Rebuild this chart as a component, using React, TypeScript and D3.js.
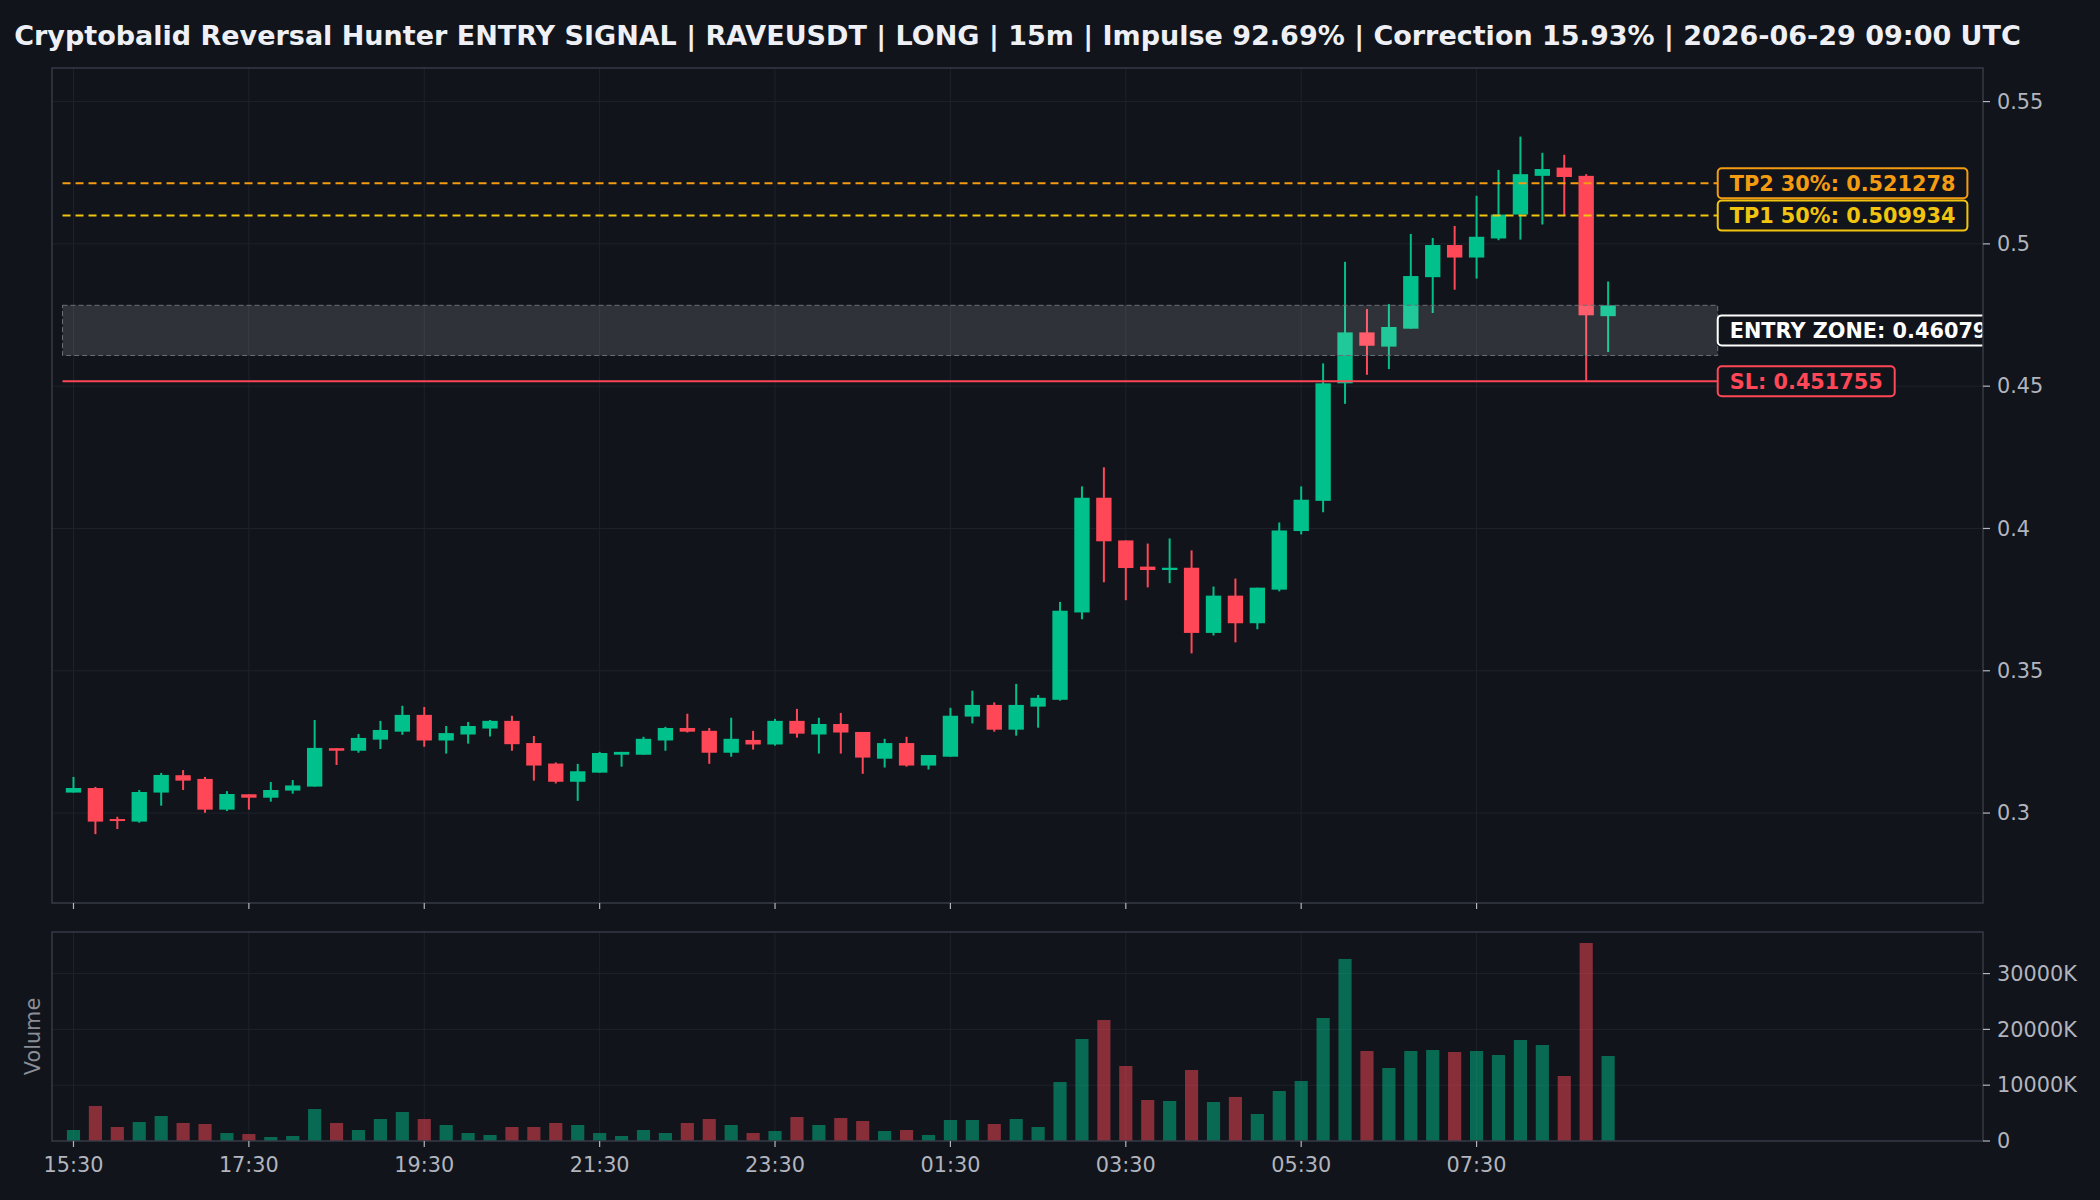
import * as d3 from 'd3'
import { useEffect, useRef } from 'react'

const W = 2100
const H = 1200

const titleText =
  'Cryptobalid Reversal Hunter ENTRY SIGNAL | RAVEUSDT | LONG | 15m | Impulse 92.69% | Correction 15.93% | 2026-06-29 09:00 UTC'

// 15m candles, 15:30 -> 09:00 UTC
const opens = [
  0.3072, 0.3088, 0.2979, 0.2970, 0.3072, 0.3133, 0.3120, 0.3012, 0.3066, 0.3054,
  0.3079, 0.3093, 0.3228, 0.3219, 0.3258, 0.3286, 0.3345, 0.3255, 0.3276, 0.3297,
  0.3324, 0.3246, 0.3174, 0.3110, 0.3142, 0.3205, 0.3205, 0.3255, 0.3299, 0.3289,
  0.3212, 0.3257, 0.3241, 0.3324, 0.3276, 0.3313, 0.3285, 0.3191, 0.3246, 0.3167,
  0.3198, 0.3339, 0.3380, 0.3293, 0.3374, 0.3398, 0.3705, 0.4108, 0.3958, 0.3866,
  0.3854, 0.3862, 0.3633, 0.3764, 0.3667, 0.3785, 0.3991, 0.4097, 0.4510, 0.4689,
  0.4639, 0.4702, 0.4883, 0.4996, 0.4952, 0.5019, 0.5103, 0.5239, 0.5268, 0.5239,
  0.4746,
]
const highs = [
  0.3127, 0.3092, 0.2987, 0.3081, 0.3141, 0.3151, 0.3127, 0.3077, 0.3066, 0.3109,
  0.3116, 0.3327, 0.3228, 0.3278, 0.3324, 0.3377, 0.3373, 0.3306, 0.3320, 0.3327,
  0.3342, 0.3271, 0.3178, 0.3173, 0.3215, 0.3215, 0.3268, 0.3303, 0.3349, 0.3299,
  0.3335, 0.3289, 0.3331, 0.3366, 0.3335, 0.3352, 0.3285, 0.3261, 0.3268, 0.3204,
  0.3370, 0.3430, 0.3389, 0.3454, 0.3415, 0.3742, 0.4148, 0.4215, 0.3958, 0.3947,
  0.3965, 0.3923, 0.3796, 0.3824, 0.3792, 0.4021, 0.4148, 0.4580, 0.4937, 0.4771,
  0.4789, 0.5035, 0.5021, 0.5063, 0.5169, 0.5260, 0.5377, 0.5320, 0.5313, 0.5245,
  0.4868,
]
const lows = [
  0.3072, 0.2926, 0.2944, 0.2966, 0.3026, 0.3081, 0.3001, 0.3007, 0.3012, 0.3040,
  0.3068, 0.3093, 0.3169, 0.3212, 0.3225, 0.3275, 0.3233, 0.3209, 0.3244, 0.3269,
  0.3219, 0.3114, 0.3104, 0.3043, 0.3142, 0.3163, 0.3205, 0.3219, 0.3283, 0.3173,
  0.3198, 0.3223, 0.3237, 0.3265, 0.3209, 0.3209, 0.3138, 0.3160, 0.3163, 0.3153,
  0.3198, 0.3315, 0.3286, 0.3272, 0.3300, 0.3395, 0.3681, 0.3811, 0.3748, 0.3793,
  0.3808, 0.3561, 0.3624, 0.3600, 0.3646, 0.3779, 0.3979, 0.4057, 0.4438, 0.4540,
  0.4560, 0.4702, 0.4757, 0.4839, 0.4878, 0.5013, 0.5015, 0.5068, 0.5101, 0.4518,
  0.4620,
]
const closes = [
  0.3088, 0.2970, 0.2972, 0.3074, 0.3134, 0.3114, 0.3012, 0.3067, 0.3054, 0.3081,
  0.3097, 0.3229, 0.3219, 0.3264, 0.3292, 0.3345, 0.3255, 0.3281, 0.3306, 0.3324,
  0.3242, 0.3167, 0.3110, 0.3147, 0.3211, 0.3215, 0.3261, 0.3299, 0.3286, 0.3212,
  0.3261, 0.3241, 0.3324, 0.3279, 0.3313, 0.3283, 0.3195, 0.3246, 0.3167, 0.3204,
  0.3342, 0.3380, 0.3293, 0.3380, 0.3405, 0.3711, 0.4108, 0.3955, 0.3861, 0.3854,
  0.3862, 0.3633, 0.3764, 0.3667, 0.3792, 0.3993, 0.4101, 0.4510, 0.4689, 0.4642,
  0.4708, 0.4887, 0.4996, 0.4952, 0.5025, 0.5103, 0.5245, 0.5263, 0.5235, 0.4749,
  0.4784,
]
// volume in thousands
const volumes = [
  1970, 6270, 2510, 3400, 4480, 3230, 3050, 1430, 1250, 720,
  900, 5730, 3230, 1970, 3940, 5200, 3940, 2870, 1430, 1080,
  2510, 2510, 3230, 2870, 1430, 900, 1970, 1430, 3230, 3940,
  2870, 1430, 1790, 4300, 2870, 4120, 3580, 1790, 1970, 1080,
  3760, 3760, 3050, 3940, 2510, 10570, 18280, 21680, 13440, 7350,
  7170, 12720, 6990, 7890, 4840, 8960, 10750, 22040, 32620, 16130,
  13080, 16130, 16310, 15950, 16130, 15410, 18100, 17200, 11650, 35480,
  15230,
]

const timeTickIdx = [0, 8, 16, 24, 32, 40, 48, 56, 64]
const timeLabels = ['15:30', '17:30', '19:30', '21:30', '23:30', '01:30', '03:30', '05:30', '07:30']
const priceTicks = [0.3, 0.35, 0.4, 0.45, 0.5, 0.55]
const volTicks = [0, 10000, 20000, 30000]

const tpNames = ['TP2 30%', 'TP1 50%']
const tpValues = [0.521278, 0.509934]
const tpColors = ['#f39c12', '#f1c40f']
const entryLow = 0.46079
const entryHigh = 0.478421
const stopLoss = 0.451755

const BG = '#11141b'
const GRID = '#1e222b'
const BORDER = '#363a45'
const TICK_TXT = '#b2b5be'
const UP = '#00c08b'
const DOWN = '#ff4757'
const FONT = "'DejaVu Sans', sans-serif"

// panel edges
const PL = 52
const PR = 1983
const MT = 68
const MB = 903
const VT = 932
const VB = 1141

function drawChart(node: SVGSVGElement) {
  const svg = d3.select(node)
  svg.selectAll('*').remove()

  svg.append('rect').attr('width', W).attr('height', H).attr('fill', BG)

  const idx = d3.range(opens.length)
  const x = d3.scaleLinear().domain([-0.98, 87.1]).range([PL, PR])
  const y = d3.scaleLinear().domain([0.2684, 0.5618]).range([MB, MT])
  const yv = d3.scaleLinear().domain([0, 37450]).range([VB, VT])
  const step = x(1) - x(0)
  const isUp = (i: number) => closes[i] >= opens[i]

  const defs = svg.append('defs')
  defs.append('clipPath').attr('id', 'clipMain')
    .append('rect').attr('x', PL).attr('y', MT).attr('width', PR - PL).attr('height', MB - MT)
  defs.append('clipPath').attr('id', 'clipVol')
    .append('rect').attr('x', PL).attr('y', VT).attr('width', PR - PL).attr('height', VB - VT)

  // title
  svg.append('text')
    .attr('x', (PL + PR) / 2)
    .attr('y', 45)
    .attr('text-anchor', 'middle')
    .attr('fill', '#eef0f5')
    .style('font-family', FONT)
    .style('font-weight', 'bold')
    .style('font-size', '27px')
    .text(titleText)

  // ---------- main panel ----------
  const gMain = svg.append('g').attr('clip-path', 'url(#clipMain)')

  gMain.selectAll('line.hgrid').data(priceTicks).join('line')
    .attr('x1', PL).attr('x2', PR)
    .attr('y1', d => y(d)).attr('y2', d => y(d))
    .attr('stroke', GRID).attr('stroke-width', 1)
  gMain.selectAll('line.vgrid').data(timeTickIdx).join('line')
    .attr('x1', d => x(d)).attr('x2', d => x(d))
    .attr('y1', MT).attr('y2', MB)
    .attr('stroke', GRID).attr('stroke-width', 1)

  // wicks
  gMain.append('g').selectAll('line').data(idx).join('line')
    .attr('x1', i => x(i)).attr('x2', i => x(i))
    .attr('y1', i => y(highs[i])).attr('y2', i => y(lows[i]))
    .attr('stroke', i => (isUp(i) ? UP : DOWN))
    .attr('stroke-width', 2)

  // bodies
  const bw = step * 0.7
  gMain.append('g').selectAll('rect').data(idx).join('rect')
    .attr('x', i => x(i) - bw / 2)
    .attr('width', bw)
    .attr('y', i => y(Math.max(opens[i], closes[i])))
    .attr('height', i => Math.max(2, Math.abs(y(opens[i]) - y(closes[i]))))
    .attr('fill', i => (isUp(i) ? UP : DOWN))

  // entry zone
  gMain.append('rect')
    .attr('x', x(-0.5))
    .attr('width', x(75) - x(-0.5))
    .attr('y', y(entryHigh))
    .attr('height', y(entryLow) - y(entryHigh))
    .attr('fill', '#ffffff')
    .attr('fill-opacity', 0.13)
    .attr('stroke', '#6b6f78')
    .attr('stroke-width', 1)
    .attr('stroke-dasharray', '5,3')

  // stop loss
  gMain.append('line')
    .attr('x1', x(-0.5)).attr('x2', x(75))
    .attr('y1', y(stopLoss)).attr('y2', y(stopLoss))
    .attr('stroke', DOWN).attr('stroke-width', 2)

  // take profits
  gMain.selectAll('line.tp').data(tpValues).join('line')
    .attr('x1', x(-0.5)).attr('x2', x(75))
    .attr('y1', d => y(d)).attr('y2', d => y(d))
    .attr('stroke', (_d, i) => tpColors[i])
    .attr('stroke-width', 2)
    .attr('stroke-dasharray', '8,5')

  // level labels (entry label runs past the axes and is clipped, as in the source)
  const labels = [
    { text: `${tpNames[0]}: ${tpValues[0].toFixed(6)}`, value: tpValues[0], color: tpColors[0] },
    { text: `${tpNames[1]}: ${tpValues[1].toFixed(6)}`, value: tpValues[1], color: tpColors[1] },
    { text: `ENTRY ZONE: ${entryLow.toFixed(6)} - ${entryHigh.toFixed(6)}`, value: (entryLow + entryHigh) / 2, color: '#ffffff' },
    { text: `SL: ${stopLoss.toFixed(6)}`, value: stopLoss, color: DOWN },
  ]
  labels.forEach(lb => {
    const g = gMain.append('g')
    const t = g.append('text')
      .attr('x', x(75) + 12)
      .attr('y', y(lb.value))
      .attr('dy', '0.36em')
      .attr('fill', lb.color)
      .style('font-family', FONT)
      .style('font-weight', 'bold')
      .style('font-size', '20.8px')
      .text(lb.text)
    const tw = (t.node() as SVGTextElement).getComputedTextLength()
    g.insert('rect', 'text')
      .attr('x', x(75))
      .attr('y', y(lb.value) - 15)
      .attr('width', tw + 24)
      .attr('height', 30)
      .attr('rx', 4)
      .attr('fill', BG)
      .attr('stroke', lb.color)
      .attr('stroke-width', 2)
  })

  // frame + ticks
  svg.append('rect')
    .attr('x', PL).attr('y', MT).attr('width', PR - PL).attr('height', MB - MT)
    .attr('fill', 'none').attr('stroke', BORDER).attr('stroke-width', 1.5)

  svg.append('g').selectAll('line').data(timeTickIdx).join('line')
    .attr('x1', d => x(d)).attr('x2', d => x(d))
    .attr('y1', MB).attr('y2', MB + 6)
    .attr('stroke', TICK_TXT).attr('stroke-width', 1.2)

  const yAx = svg.append('g')
  yAx.selectAll('line').data(priceTicks).join('line')
    .attr('x1', PR).attr('x2', PR + 7)
    .attr('y1', d => y(d)).attr('y2', d => y(d))
    .attr('stroke', TICK_TXT).attr('stroke-width', 1.2)
  yAx.selectAll('text').data(priceTicks).join('text')
    .attr('x', PR + 14)
    .attr('y', d => y(d))
    .attr('dy', '0.35em')
    .attr('fill', TICK_TXT)
    .style('font-family', FONT)
    .style('font-size', '20.8px')
    .text(d => d3.format('~g')(d))

  // ---------- volume panel ----------
  const gVol = svg.append('g').attr('clip-path', 'url(#clipVol)')
  gVol.selectAll('line.hgrid').data(volTicks).join('line')
    .attr('x1', PL).attr('x2', PR)
    .attr('y1', d => yv(d)).attr('y2', d => yv(d))
    .attr('stroke', GRID).attr('stroke-width', 1)
  gVol.selectAll('line.vgrid').data(timeTickIdx).join('line')
    .attr('x1', d => x(d)).attr('x2', d => x(d))
    .attr('y1', VT).attr('y2', VB)
    .attr('stroke', GRID).attr('stroke-width', 1)

  const vw = step * 0.6
  gVol.append('g').selectAll('rect').data(idx).join('rect')
    .attr('x', i => x(i) - vw / 2)
    .attr('width', vw)
    .attr('y', i => yv(volumes[i]))
    .attr('height', i => yv(0) - yv(volumes[i]))
    .attr('fill', i => (isUp(i) ? UP : DOWN))
    .attr('fill-opacity', 0.5)

  svg.append('rect')
    .attr('x', PL).attr('y', VT).attr('width', PR - PL).attr('height', VB - VT)
    .attr('fill', 'none').attr('stroke', BORDER).attr('stroke-width', 1.5)

  const xAx = svg.append('g')
  xAx.selectAll('line').data(timeTickIdx).join('line')
    .attr('x1', d => x(d)).attr('x2', d => x(d))
    .attr('y1', VB).attr('y2', VB + 6)
    .attr('stroke', TICK_TXT).attr('stroke-width', 1.2)
  xAx.selectAll('text').data(timeTickIdx).join('text')
    .attr('x', d => x(d))
    .attr('y', VB + 31)
    .attr('text-anchor', 'middle')
    .attr('fill', TICK_TXT)
    .style('font-family', FONT)
    .style('font-size', '20.8px')
    .text((_d, i) => timeLabels[i])

  const vAx = svg.append('g')
  vAx.selectAll('line').data(volTicks).join('line')
    .attr('x1', PR).attr('x2', PR + 7)
    .attr('y1', d => yv(d)).attr('y2', d => yv(d))
    .attr('stroke', TICK_TXT).attr('stroke-width', 1.2)
  vAx.selectAll('text').data(volTicks).join('text')
    .attr('x', PR + 14)
    .attr('y', d => yv(d))
    .attr('dy', '0.35em')
    .attr('fill', TICK_TXT)
    .style('font-family', FONT)
    .style('font-size', '20.8px')
    .text(d => (d === 0 ? '0' : `${d}K`))

  svg.append('text')
    .attr('transform', `translate(40,${(VT + VB) / 2}) rotate(-90)`)
    .attr('text-anchor', 'middle')
    .attr('fill', '#8a8e97')
    .style('font-family', FONT)
    .style('font-size', '20.8px')
    .text('Volume')
}

export default function App() {
  const svgRef = useRef<SVGSVGElement>(null)

  useEffect(() => {
    if (svgRef.current) drawChart(svgRef.current)
  }, [])

  return (
    <div style={{ position: 'absolute', left: 0, top: 0, width: W, height: H, background: BG }}>
      <svg ref={svgRef} width={W} height={H} style={{ display: 'block' }} />
    </div>
  )
}
